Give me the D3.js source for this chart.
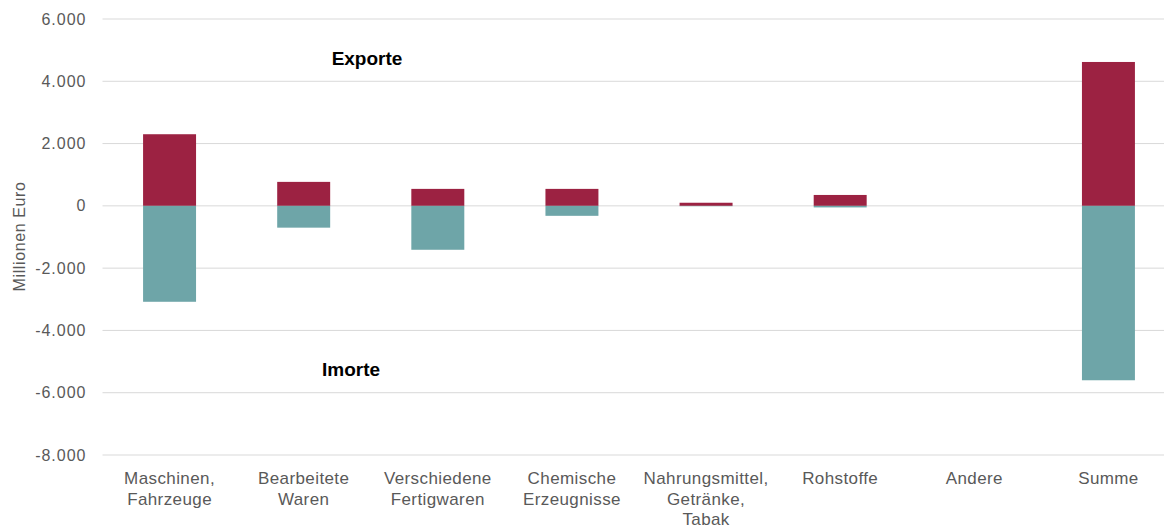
<!DOCTYPE html>
<html><head><meta charset="utf-8">
<script src="https://cdn.jsdelivr.net/npm/d3@7"></script>
<style>body{margin:0;background:#fff;font-family:"Liberation Sans",Arial,sans-serif;}</style>
</head><body><svg id="c" width="1164" height="528"></svg>
<script>
const categories = [["Maschinen,","Fahrzeuge"],["Bearbeitete","Waren"],["Verschiedene","Fertigwaren"],["Chemische","Erzeugnisse"],["Nahrungsmittel,","Getränke,","Tabak"],["Rohstoffe"],["Andere"],["Summe"]];
const exporte = [2300, 770, 545, 545, 100, 350, 0, 4620];
const importe = [-3080, -700, -1410, -320, -10, -50, 0, -5600];
const yTicks = [6000, 4000, 2000, 0, -2000, -4000, -6000, -8000];

(function(){
const svg = d3.select("#c");
const mLeft = 102.5, mRight = 1175.5, gridRight = 1164, mTop = 19, mBottom = 455;
const x = d3.scaleBand().domain(d3.range(categories.length)).range([mLeft, mRight]).paddingInner(0.605).paddingOuter(0.3025);
const y = d3.scaleLinear().domain([-8000, 6000]).range([mBottom, mTop]);
const fmt = v => (v < 0 ? "-" : "") + d3.format(",")(Math.abs(v)).replace(/,/g, ".");

svg.append("g").selectAll("line").data(yTicks).join("line")
  .attr("x1", mLeft).attr("x2", gridRight).attr("y1", d => y(d)).attr("y2", d => y(d))
  .attr("stroke", "#d9d9d9").attr("stroke-width", 1);

const yAxis = d3.axisLeft(y).tickValues(yTicks).tickFormat(fmt).tickSize(0).tickPadding(16);
const ga = svg.append("g").attr("transform", `translate(${mLeft},0)`).call(yAxis);
ga.select(".domain").remove();
ga.selectAll("text").attr("font-size", 16).attr("fill", "#595959").attr("letter-spacing", 1)
  .attr("font-family", "Liberation Sans, Arial, sans-serif");

svg.append("text").attr("transform", `translate(25,236.5) rotate(-90)`).attr("text-anchor", "middle")
  .attr("font-size", 16).attr("letter-spacing", 0.6).attr("fill", "#595959").text("Millionen Euro");

svg.append("g").selectAll("rect").data(exporte).join("rect")
  .attr("x", (d, i) => x(i)).attr("width", x.bandwidth())
  .attr("y", d => y(d)).attr("height", d => y(0) - y(d)).attr("fill", "#9c2242");
svg.append("g").selectAll("rect").data(importe).join("rect")
  .attr("x", (d, i) => x(i)).attr("width", x.bandwidth())
  .attr("y", y(0)).attr("height", d => y(d) - y(0)).attr("fill", "#6ea5a8");

const lab = svg.append("g").selectAll("text").data(categories).join("text")
  .attr("text-anchor", "middle").attr("font-size", 17).attr("letter-spacing", 0.4).attr("fill", "#595959")
  .attr("x", (d, i) => x(i) + x.bandwidth() / 2).attr("y", 484);
lab.selectAll("tspan").data(d => d).join("tspan")
  .attr("x", function(){ return this.parentNode.getAttribute("x"); })
  .attr("dy", (d, i) => i === 0 ? 0 : 20.5).text(d => d);

svg.append("text").attr("x", 367).attr("y", 65).attr("text-anchor", "middle")
  .attr("font-size", 19).attr("font-weight", "bold").attr("fill", "#000").text("Exporte");
svg.append("text").attr("x", 351).attr("y", 376).attr("text-anchor", "middle")
  .attr("font-size", 19).attr("font-weight", "bold").attr("fill", "#000").text("Imorte");
})();
</script></body></html>
